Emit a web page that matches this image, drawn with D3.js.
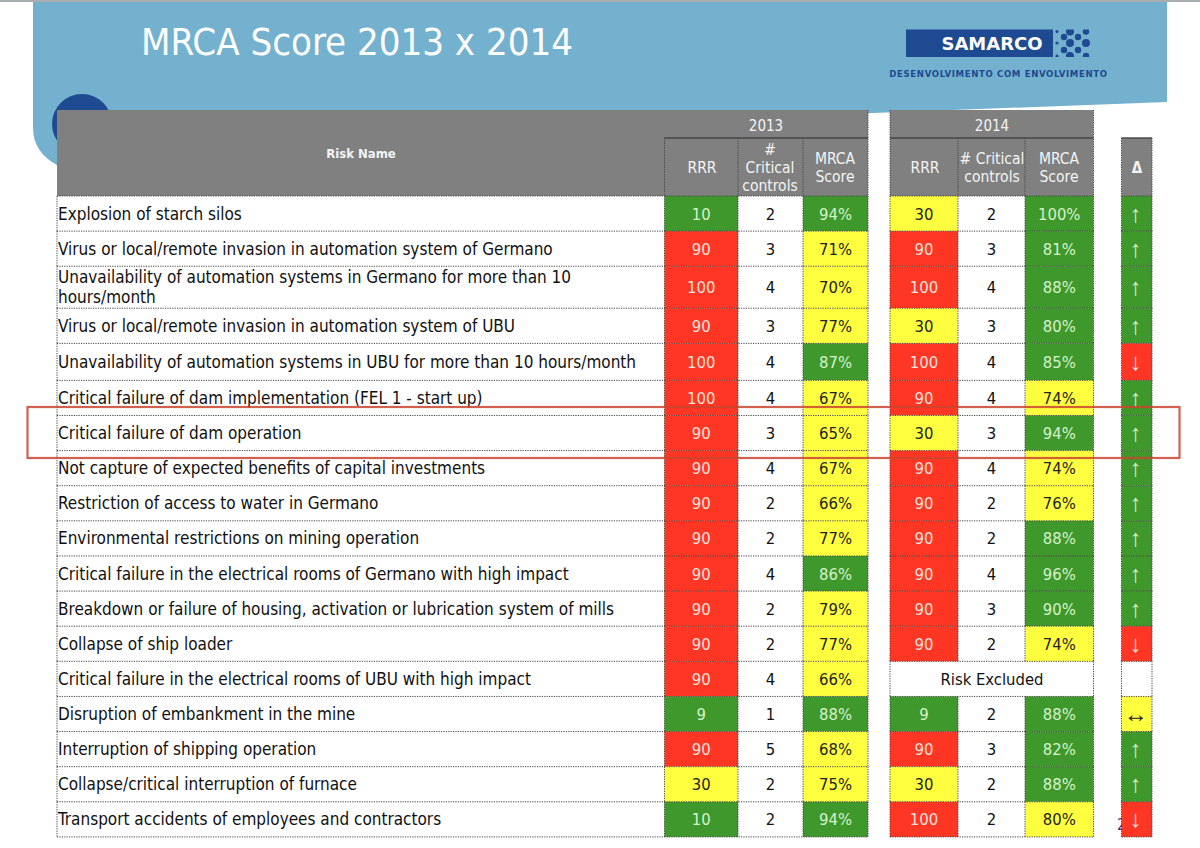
<!DOCTYPE html>
<html>
<head>
<meta charset="utf-8">
<script src="https://cdn.jsdelivr.net/npm/d3@7"></script>
<style>
  html, body { margin: 0; padding: 0; background: #fff; }
  svg { display: block; }
  text { font-family: "DejaVu Sans Condensed", "DejaVu Sans", sans-serif; }
</style>
</head>
<body>
<svg id="chart" width="1200" height="848"></svg>
<script>
const riskNames = [
  ["Explosion of starch silos"],
  ["Virus or local/remote invasion in automation system of Germano"],
  ["Unavailability of automation systems in Germano for more than 10", "hours/month"],
  ["Virus or local/remote invasion in automation system of UBU"],
  ["Unavailability of automation systems in UBU for more than 10 hours/month"],
  ["Critical failure of dam implementation (FEL 1 - start up)"],
  ["Critical failure of dam operation"],
  ["Not capture of expected benefits of capital investments"],
  ["Restriction of access to water in Germano"],
  ["Environmental restrictions on mining operation"],
  ["Critical failure in the electrical rooms of Germano with high impact"],
  ["Breakdown or failure of housing, activation or lubrication system of mills"],
  ["Collapse of ship loader"],
  ["Critical failure in the electrical rooms of UBU with high impact"],
  ["Disruption of embankment in the mine"],
  ["Interruption of shipping operation"],
  ["Collapse/critical interruption of furnace"],
  ["Transport accidents of employees and contractors"]
];
const rrr2013 = [10, 90, 100, 90, 100, 100, 90, 90, 90, 90, 90, 90, 90, 90, 9, 90, 30, 10];
const controls2013 = [2, 3, 4, 3, 4, 4, 3, 4, 2, 2, 4, 2, 2, 4, 1, 5, 2, 2];
const score2013 = [94, 71, 70, 77, 87, 67, 65, 67, 66, 77, 86, 79, 77, 66, 88, 68, 75, 94];
const band2013 = ["g","y","y","y","g","y","y","y","y","y","g","y","y","y","g","y","y","g"];
// row 13 was excluded in 2014
const rrr2014 = [30, 90, 100, 30, 100, 90, 30, 90, 90, 90, 90, 90, 90, null, 9, 90, 30, 100];
const controls2014 = [2, 3, 4, 3, 4, 4, 3, 4, 2, 2, 4, 3, 2, null, 2, 3, 2, 2];
const score2014 = [100, 81, 88, 80, 85, 74, 94, 74, 76, 88, 96, 90, 74, null, 88, 82, 88, 80];
const band2014 = ["g","g","g","g","g","y","g","y","y","g","g","g","y",null,"g","g","g","y"];
const deltas = ["up","up","up","up","down","up","up","up","up","up","up","up","down",null,"flat","up","up","down"];

const colours = { g: "#3f982b", y: "#ffff40", r: "#ff3624" };
const inkOn = { g: "#d6f2cc", y: "#222", r: "#ffe3dc" };
const glyphs = { up: "↑", down: "↓", flat: "↔" };
const deltaBand = { up: "g", down: "r", flat: "y" };
const rrrBand = d3.scaleThreshold().domain([30, 90]).range(["g", "y", "r"]);

const svg = d3.select("#chart");

// backdrop
svg.append("rect").attr("width", 1200).attr("height", 2).attr("fill", "#a9adb0");
svg.append("path")
  .attr("d", "M33,2 H1167 V102 L860,113.5 L240,118 L57,165 Q33,152 33,128 Z")
  .attr("fill", "#74b1cf");
svg.append("circle").attr("cx", 82).attr("cy", 124).attr("r", 30).attr("fill", "#1d4a90");

svg.append("text").attr("x", 141).attr("y", 55)
  .attr("font-size", 38).attr("fill", "#fff").text("MRCA Score 2013 x 2014");

// logo
const logo = svg.append("g");
svg.append("clipPath").attr("id", "logoClip").append("rect")
  .attr("x", 1050).attr("y", 29.5).attr("width", 45).attr("height", 27.5);
logo.append("rect").attr("x", 906).attr("y", 29.5).attr("width", 147).attr("height", 27.5).attr("fill", "#1d4a90");
logo.append("text").attr("x", 992).attr("y", 49.5).attr("text-anchor", "middle")
  .style("font-family", "'DejaVu Sans', sans-serif")
  .attr("font-size", 18).attr("font-weight", "bold").attr("fill", "#fff").text("SAMARCO");
const dotCols = [1057, 1064, 1070, 1078, 1086], dotRows = [31.5, 37, 43, 50, 56];
dotCols.forEach((x, c) => dotRows.forEach((y, r) => {
  if ((c + r) % 2 === 1) return;
  logo.append("circle").attr("cx", x).attr("cy", y).attr("clip-path", "url(#logoClip)")
    .attr("r", c === 0 ? 1.6 : (r === 2 || c === 2) ? 4 : 3.2).attr("fill", "#1d4a90");
}));
logo.append("text").attr("x", 998.5).attr("y", 77).attr("text-anchor", "middle")
  .attr("font-size", 9.5).attr("font-weight", "bold").attr("letter-spacing", 0.65)
  .attr("fill", "#1d4a90").text("DESENVOLVIMENTO COM ENVOLVIMENTO");

// layout
const headTop = 110, yearBottom = 138, headBottom = 196;
const rowHeight = i => i === 2 ? 42 : i === 4 ? 37 : 35.12;
const edges = [headBottom, ...d3.range(riskNames.length).map(i => headBottom + d3.sum(d3.range(i + 1), rowHeight))];
const colEdges = { name: [57, 664.5], r13: [664.5, 738], c13: [738, 803], s13: [803, 868],
  r14: [890, 958], c14: [958, 1025], s14: [1025, 1093.5], d: [1121.5, 1152] };
const rowMid = i => (edges[i] + edges[i + 1]) / 2;

const dotted = (g, x1, y1, x2, y2, col) => g.append("line")
  .attr("x1", x1).attr("y1", y1).attr("x2", x2).attr("y2", y2)
  .attr("stroke", col || "#444").attr("stroke-width", 1).attr("stroke-dasharray", "1.2 1.2");

const headers = svg.append("g");
const greyBox = (x0, x1, y0, y1) => headers.append("rect")
  .attr("x", x0).attr("y", y0).attr("width", x1 - x0).attr("height", y1 - y0).attr("fill", "#808080");
greyBox(57, 868, headTop, headBottom);
greyBox(890, 1093.5, headTop, headBottom);
greyBox(1121.5, 1152, yearBottom, headBottom);

const headLabel = (x, y, s, size) => headers.append("text").attr("x", x).attr("y", y)
  .attr("text-anchor", "middle").attr("font-size", size || 15.5).attr("fill", "#f4f4f4").text(s);

headLabel(361, 158, "Risk Name", 13).attr("font-weight", "bold");
headLabel(766, 131, "2013", 15);
headLabel(992, 131, "2014", 15);
headLabel(702, 173, "RRR");
headLabel(770, 155, "#");
headLabel(770, 173, "Critical");
headLabel(770, 191, "controls");
headLabel(835, 164, "MRCA");
headLabel(835, 182, "Score");
headLabel(925, 173, "RRR");
headLabel(992, 164, "# Critical");
headLabel(992, 182, "controls");
headLabel(1059, 164, "MRCA");
headLabel(1059, 182, "Score");
headLabel(1137, 173, "Δ", 15).attr("font-weight", "bold");

// header rules
[[664.5, 868], [890, 1093.5], [1121.5, 1152]].forEach(([a, b]) =>
  headers.append("line").attr("x1", a).attr("x2", b).attr("y1", yearBottom).attr("y2", yearBottom)
    .attr("stroke", "#444").attr("stroke-width", 1.4));
[664.5, 738, 803, 868, 890, 958, 1025, 1093.5, 1121.5, 1152].forEach(x => {
  const top = (x === 868 || x === 890 || x === 1093.5) ? headTop : yearBottom;
  dotted(headers, x, top, x, headBottom);
});

svg.append("text").attr("x", 1117).attr("y", 830).attr("font-size", 15).attr("fill", "#3a2f8f").text("2");

// body cells
const body = svg.append("g");
const cell = (key, i, value, band) => {
  const [x0, x1] = colEdges[key];
  if (band) body.append("rect").attr("x", x0).attr("y", edges[i])
    .attr("width", x1 - x0).attr("height", edges[i + 1] - edges[i]).attr("fill", colours[band]);
  if (value !== null) body.append("text").attr("x", (x0 + x1) / 2).attr("y", rowMid(i) + 6)
    .attr("text-anchor", "middle").attr("font-size", 16.5)
    .attr("fill", band ? inkOn[band] : "#111").text(value);
};

riskNames.forEach((lines, i) => {
  if (lines.length === 1) {
    body.append("text").attr("x", 58).attr("y", rowMid(i) + 6).attr("font-size", 17).attr("fill", "#111").text(lines[0]);
  } else {
    lines.forEach((s, k) => body.append("text").attr("x", 58).attr("y", edges[i] + 17 + k * 20)
      .attr("font-size", 17).attr("fill", "#111").text(s));
  }
  cell("r13", i, rrr2013[i], rrrBand(rrr2013[i]));
  cell("c13", i, controls2013[i]);
  cell("s13", i, score2013[i] + "%", band2013[i]);
  if (rrr2014[i] === null) {
    body.append("text").attr("x", 992).attr("y", rowMid(i) + 6).attr("text-anchor", "middle")
      .attr("font-size", 16.5).attr("fill", "#111").text("Risk Excluded");
  } else {
    cell("r14", i, rrr2014[i], rrrBand(rrr2014[i]));
    cell("c14", i, controls2014[i]);
    cell("s14", i, score2014[i] + "%", band2014[i]);
  }
  if (deltas[i]) {
    const [x0, x1] = colEdges.d, band = deltaBand[deltas[i]];
    cell("d", i, null, band);
    body.append("text").attr("x", (x0 + x1) / 2 - 1).attr("y", rowMid(i) + 8)
      .attr("text-anchor", "middle").attr("font-size", 24)
      .style("font-family", "'Liberation Sans', sans-serif")
      .attr("fill", inkOn[band]).text(glyphs[deltas[i]]);
  }
});

// dotted grid
const grid = svg.append("g");
edges.forEach(y => {
  dotted(grid, 57, y, 868, y);
  dotted(grid, 890, y, 1093.5, y);
  dotted(grid, 1121.5, y, 1152, y);
});
[57, 664.5, 738, 803, 868, 890, 958, 1025, 1093.5, 1121.5, 1152].forEach(x => {
  edges.slice(0, -1).forEach((y, i) => {
    if ((x === 958 || x === 1025) && rrr2014[i] === null) return;
    dotted(grid, x, y, x, edges[i + 1]);
  });
});

// highlight box
svg.append("rect").attr("x", 27.5).attr("y", 407).attr("width", 1152).attr("height", 51)
  .attr("fill", "none").attr("stroke", "#c9452f").attr("stroke-opacity", 0.85).attr("stroke-width", 2.2);
</script>
</body>
</html>
